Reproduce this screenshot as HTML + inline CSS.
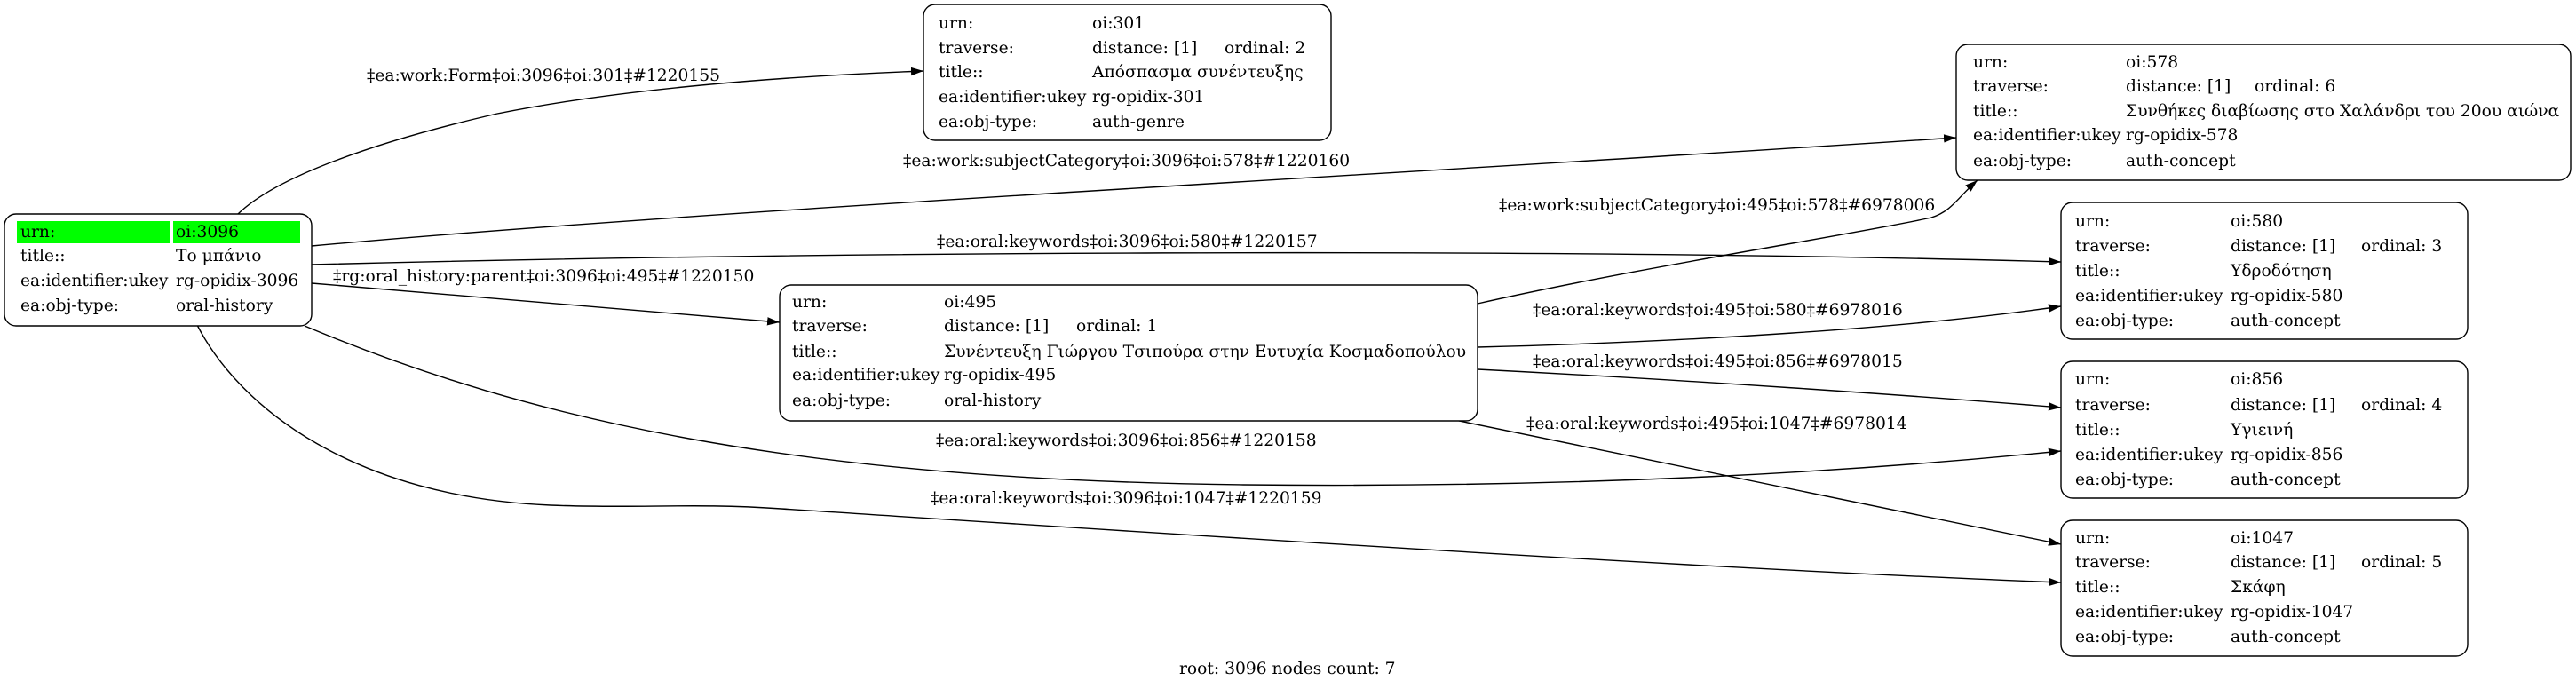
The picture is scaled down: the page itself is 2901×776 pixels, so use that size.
<!DOCTYPE html>
<html>
<head>
<meta charset="utf-8">
<style>
html,body{margin:0;padding:0;background:#fff;}
svg{display:block;}
text{font-family:"DejaVu Serif","Liberation Serif",serif;font-size:18.67px;fill:#000;}
</style>
</head>
<body>
<svg width="2901" height="776" viewBox="0 0 2901 776" xmlns="http://www.w3.org/2000/svg">
<defs>
<marker id="ah" markerUnits="userSpaceOnUse" markerWidth="16" markerHeight="12" refX="14" refY="4.7" orient="auto">
<path d="M0,0 L14,4.7 L0,9.4 z" fill="#000"/>
</marker>
</defs>
<rect x="0" y="0" width="2901" height="776" fill="#fff"/>

<!-- edges -->
<g fill="none" stroke="#000" stroke-width="1.4">
<path d="M268,241 C310,200 420,160 560,128 C700,100 880,86 1040,80" marker-end="url(#ah)"/>
<path d="M351,277 C800,236 1600,195 2203,155" marker-end="url(#ah)"/>
<path d="M351,298 C900,284 1700,278 2321,295" marker-end="url(#ah)"/>
<path d="M351,319 L878,363" marker-end="url(#ah)"/>
<path d="M343,367 C600,475 900,540 1400,546 C1800,550 2100,530 2321,508" marker-end="url(#ah)"/>
<path d="M222,366 C270,460 400,560 620,569 C720,573 780,566 880,573 C1300,600 1900,640 2321,656" marker-end="url(#ah)"/>
<path d="M1664,342 C1850,300 2100,262 2175,245 C2198,238 2205,222 2227,203" marker-end="url(#ah)"/>
<path d="M1664,391 C1900,385 2150,370 2321,345" marker-end="url(#ah)"/>
<path d="M1664,416 C1900,428 2150,445 2321,459" marker-end="url(#ah)"/>
<path d="M1643,474 L2321,613" marker-end="url(#ah)"/>
</g>

<!-- edge labels -->
<text x="413" y="91">‡ea:work:Form‡oi:3096‡oi:301‡#1220155</text>
<text x="1017" y="187">‡ea:work:subjectCategory‡oi:3096‡oi:578‡#1220160</text>
<text x="1688" y="237">‡ea:work:subjectCategory‡oi:495‡oi:578‡#6978006</text>
<text x="1055" y="278">‡ea:oral:keywords‡oi:3096‡oi:580‡#1220157</text>
<text x="375" y="317">‡rg:oral_history:parent‡oi:3096‡oi:495‡#1220150</text>
<text x="1726" y="355">‡ea:oral:keywords‡oi:495‡oi:580‡#6978016</text>
<text x="1726" y="413">‡ea:oral:keywords‡oi:495‡oi:856‡#6978015</text>
<text x="1719" y="483">‡ea:oral:keywords‡oi:495‡oi:1047‡#6978014</text>
<text x="1054" y="502">‡ea:oral:keywords‡oi:3096‡oi:856‡#1220158</text>
<text x="1048" y="567">‡ea:oral:keywords‡oi:3096‡oi:1047‡#1220159</text>
<text x="1328" y="759">root: 3096 nodes count: 7</text>

<!-- node 3096 -->
<rect x="5" y="241" width="346" height="126" rx="13" ry="13" fill="#fff" stroke="#000" stroke-width="1.4"/>
<rect x="19" y="249" width="172" height="25" fill="#00ff00"/>
<rect x="195" y="249" width="143" height="25" fill="#00ff00"/>
<text x="23" y="267">urn:</text><text x="198" y="267">oi:3096</text>
<text x="23" y="294">title::</text><text x="198" y="294">Το μπάνιο</text>
<text x="23" y="322">ea:identifier:ukey</text><text x="198" y="322">rg-opidix-3096</text>
<text x="23" y="350">ea:obj-type:</text><text x="198" y="350">oral-history</text>

<!-- node 301 -->
<rect x="1040" y="5" width="459" height="153" rx="13" ry="13" fill="#fff" stroke="#000" stroke-width="1.4"/>
<text x="1057" y="32">urn:</text><text x="1230" y="32">oi:301</text>
<text x="1057" y="60">traverse:</text><text x="1230" y="60">distance: [1]</text><text x="1379" y="60">ordinal: 2</text>
<text x="1057" y="87">title::</text><text x="1230" y="87">Απόσπασμα συνέντευξης</text>
<text x="1057" y="115">ea:identifier:ukey</text><text x="1230" y="115">rg-opidix-301</text>
<text x="1057" y="143">ea:obj-type:</text><text x="1230" y="143">auth-genre</text>

<!-- node 578 -->
<rect x="2203" y="50" width="692" height="153" rx="13" ry="13" fill="#fff" stroke="#000" stroke-width="1.4"/>
<text x="2222" y="76">urn:</text><text x="2394" y="76">oi:578</text>
<text x="2222" y="103">traverse:</text><text x="2394" y="103">distance: [1]</text><text x="2539" y="103">ordinal: 6</text>
<text x="2222" y="131">title::</text><text x="2394" y="131">Συνθήκες διαβίωσης στο Χαλάνδρι του 20ου αιώνα</text>
<text x="2222" y="158">ea:identifier:ukey</text><text x="2394" y="158">rg-opidix-578</text>
<text x="2222" y="187">ea:obj-type:</text><text x="2394" y="187">auth-concept</text>

<!-- node 495 -->
<rect x="878" y="321" width="786" height="153" rx="13" ry="13" fill="#fff" stroke="#000" stroke-width="1.4"/>
<text x="892" y="346">urn:</text><text x="1063" y="346">oi:495</text>
<text x="892" y="373">traverse:</text><text x="1063" y="373">distance: [1]</text><text x="1212" y="373">ordinal: 1</text>
<text x="892" y="402">title::</text><text x="1063" y="402">Συνέντευξη Γιώργου Τσιπούρα στην Ευτυχία Κοσμαδοπούλου</text>
<text x="892" y="428">ea:identifier:ukey</text><text x="1063" y="428">rg-opidix-495</text>
<text x="892" y="457">ea:obj-type:</text><text x="1063" y="457">oral-history</text>

<!-- node 580 -->
<rect x="2321" y="228" width="458" height="154" rx="13" ry="13" fill="#fff" stroke="#000" stroke-width="1.4"/>
<text x="2337" y="255">urn:</text><text x="2512" y="255">oi:580</text>
<text x="2337" y="283">traverse:</text><text x="2512" y="283">distance: [1]</text><text x="2659" y="283">ordinal: 3</text>
<text x="2337" y="311">title::</text><text x="2512" y="311">Υδροδότηση</text>
<text x="2337" y="339">ea:identifier:ukey</text><text x="2512" y="339">rg-opidix-580</text>
<text x="2337" y="367">ea:obj-type:</text><text x="2512" y="367">auth-concept</text>

<!-- node 856 -->
<rect x="2321" y="407" width="458" height="154" rx="13" ry="13" fill="#fff" stroke="#000" stroke-width="1.4"/>
<text x="2337" y="433">urn:</text><text x="2512" y="433">oi:856</text>
<text x="2337" y="462">traverse:</text><text x="2512" y="462">distance: [1]</text><text x="2659" y="462">ordinal: 4</text>
<text x="2337" y="490">title::</text><text x="2512" y="490">Υγιεινή</text>
<text x="2337" y="518">ea:identifier:ukey</text><text x="2512" y="518">rg-opidix-856</text>
<text x="2337" y="546">ea:obj-type:</text><text x="2512" y="546">auth-concept</text>

<!-- node 1047 -->
<rect x="2321" y="586" width="458" height="153" rx="13" ry="13" fill="#fff" stroke="#000" stroke-width="1.4"/>
<text x="2337" y="612">urn:</text><text x="2512" y="612">oi:1047</text>
<text x="2337" y="639">traverse:</text><text x="2512" y="639">distance: [1]</text><text x="2659" y="639">ordinal: 5</text>
<text x="2337" y="667">title::</text><text x="2512" y="667">Σκάφη</text>
<text x="2337" y="695">ea:identifier:ukey</text><text x="2512" y="695">rg-opidix-1047</text>
<text x="2337" y="723">ea:obj-type:</text><text x="2512" y="723">auth-concept</text>
</svg>
</body>
</html>
